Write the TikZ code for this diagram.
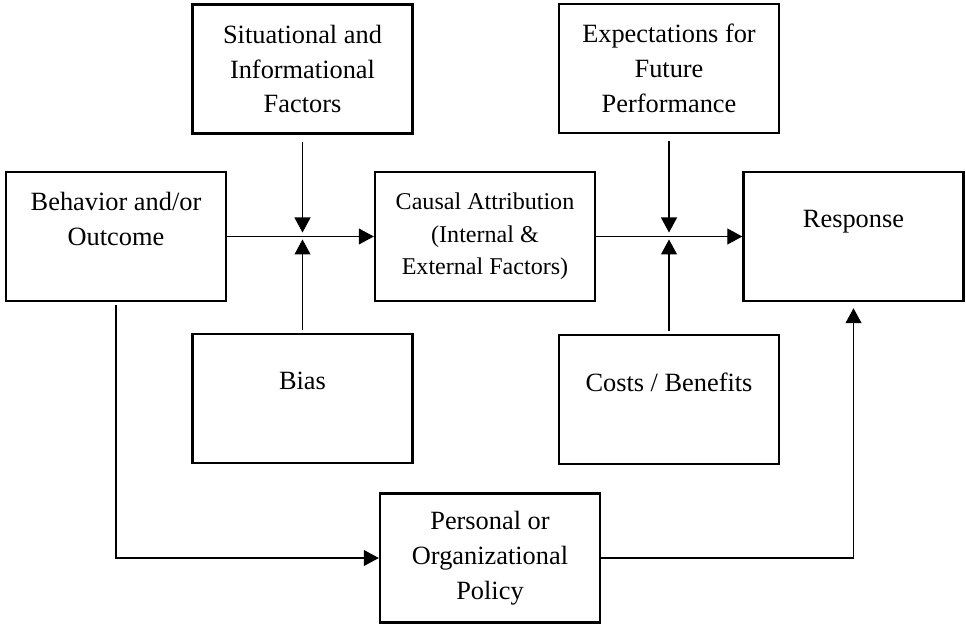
\documentclass[tikz,border=0pt]{standalone}
\usepackage{fontspec}
\setmainfont{Liberation Serif}
\usetikzlibrary{positioning,arrows.meta}
\tikzset{
  factor/.style={draw, line width=1.4pt, align=center, minimum width=#1, minimum height=2.58cm,
                 inner sep=2pt, font=\fontsize{15}{19.9}\selectfont},
  factor/.default=4.40cm,
  smalltext/.style={font=\fontsize{13.7}{18.5}\selectfont},
  flow/.style={-{Triangle[length=0.3cm,width=0.32cm]}, line width=0.6pt},
}
\newcommand{\padline}{\\\mbox{}}

\begin{document}
\begin{tikzpicture}
  \useasboundingbox (0,0) rectangle (19.32,-12.48);
  % top row
  \node[factor] (sit) at (6.05,-1.38) {Situational and\\Informational\\Factors};
  \node[factor] (exp) at (13.38,-1.37) {Expectations for\\Future\\Performance};
  % middle row
  \node[factor] (beh) at (2.32,-4.73) {Behavior and/or\\Outcome\padline};
  \node[factor, smalltext] (cau) at (9.70,-4.73) {Causal Attribution\\(Internal \&\\External Factors)};
  \node[factor] (res) at (17.07,-4.73) {Response\padline};
  % bottom rows
  \node[factor] (bias) at (6.05,-7.97) {Bias\padline};
  \node[factor] (cost) at (13.38,-7.99) {Costs / Benefits\padline};
  \node[factor] (pol) at (9.80,-11.16) {Personal or\\Organizational\\Policy};
  \coordinate (j1) at (sit.south |- cau.west);
  \coordinate (j2) at (exp.south |- res.west);
  \draw[flow] (beh.east) -- (cau.west);
  \draw[flow] (cau.east) -- (res.west);
  \foreach \t/\b/\j in {sit/bias/j1, exp/cost/j2}{
    \draw[flow, shorten <=0.14cm, shorten >=0.08cm] (\t.south) -- (\j);
    \draw[flow, shorten <=0.06cm, shorten >=0.06cm] (\b.north) -- (\j);}
  \draw[flow, shorten <=0.06cm] (beh.south) |- (pol.west);
  \draw[flow, shorten >=0.12cm] (pol.east) -| (res.south);
\end{tikzpicture}
\end{document}
